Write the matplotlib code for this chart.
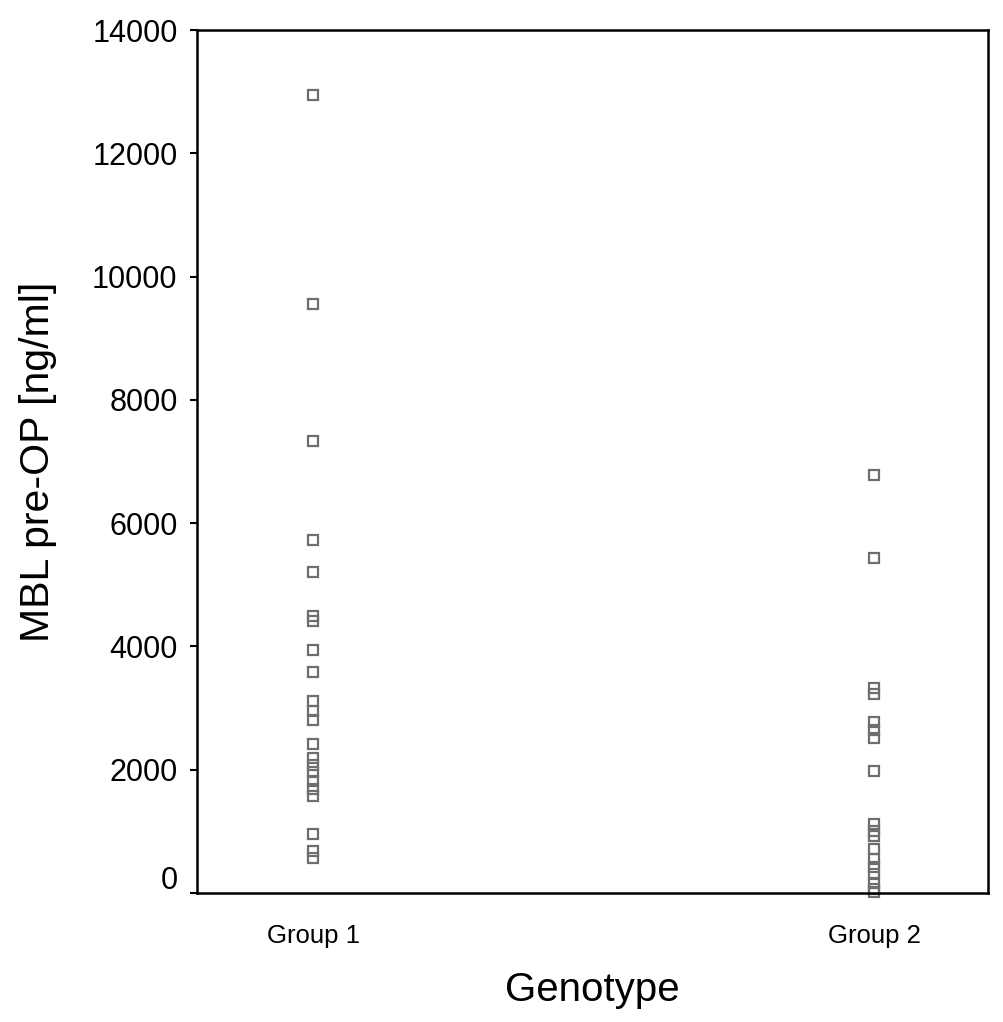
"""Dot plot of pre-operative MBL levels by genotype group."""

from __future__ import annotations

import matplotlib

matplotlib.use("Agg")
import matplotlib.pyplot as plt
from matplotlib.transforms import ScaledTranslation

GROUPS = ["Group 1", "Group 2"]

GROUP1_MBL = [
    12950, 9550, 7330, 5730, 5200, 4500, 4420, 3940, 3580, 3110, 2960,
    2800, 2420, 2190, 2070, 1960, 1820, 1690, 1570, 960, 680, 570,
]
GROUP2_MBL = [
    6780, 5430, 3330, 3230, 2770, 2640, 2510, 1980,
    1120, 1000, 920, 720, 560, 430, 310, 160, 60, 20,
]

Y_TICKS = [0, 2000, 4000, 6000, 8000, 10000, 12000, 14000]

MARKER_COLOR = "#6e6e6e"
FONT = ["Liberation Sans", "DejaVu Sans"]


def plot() -> None:
    plt.rcParams["font.family"] = FONT
    fig = plt.figure(figsize=(10.04, 10.22), dpi=100)
    ax = fig.add_axes([0.1962, 0.1262, 0.7878, 0.8444])

    for pos, values in enumerate([GROUP1_MBL, GROUP2_MBL], start=1):
        ax.plot(
            [pos] * len(values),
            values,
            linestyle="none",
            marker="s",
            markersize=7.5,
            markerfacecolor="none",
            markeredgecolor=MARKER_COLOR,
            markeredgewidth=1.6,
            clip_on=False,
        )

    ax.set_xlim(0.793, 2.203)
    ax.set_ylim(0, 14000)
    ax.set_xticks([1, 2])
    ax.set_xticklabels(GROUPS, fontsize=18.5)
    ax.set_yticks(Y_TICKS)
    ax.set_yticklabels([str(t) for t in Y_TICKS], fontsize=22)
    ax.tick_params(axis="x", length=0, pad=22)
    ax.tick_params(axis="y", length=5, width=1.5, pad=9)

    # SPSS style: the zero label sits a little above its tick
    zero_label = ax.get_yticklabels()[0]
    zero_label.set_transform(
        zero_label.get_transform() + ScaledTranslation(0, 0.16, fig.dpi_scale_trans)
    )

    for spine in ax.spines.values():
        spine.set_linewidth(1.8)
        spine.set_color("black")

    ax.set_ylabel("MBL pre-OP [ng/ml]", fontsize=29.5, va="center")
    ax.yaxis.set_label_coords(-0.201, 0.5)
    ax.set_xlabel("Genotype", fontsize=29, va="center")
    ax.xaxis.set_label_coords(0.5, -0.1124)

    fig.savefig("out.png", dpi=100)
    plt.close(fig)


if __name__ == "__main__":
    plot()
